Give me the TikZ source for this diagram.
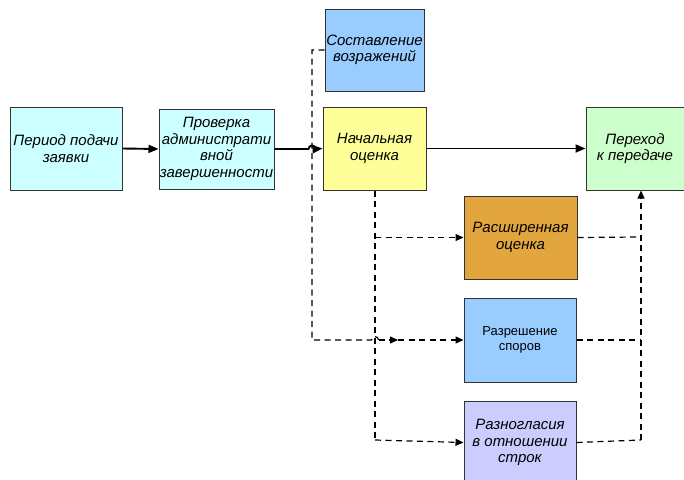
\documentclass[tikz,border=0pt]{standalone}
\usepackage{fontspec}
\setmainfont{Liberation Sans}
\usetikzlibrary{arrows.meta}
\definecolor{cyanbox}{HTML}{CCFFFF}
\definecolor{bluebox}{HTML}{99CCFF}
\definecolor{yellowbox}{HTML}{FFFF99}
\definecolor{greenbox}{HTML}{CCFFCC}
\definecolor{orangebox}{HTML}{E3A63F}
\definecolor{violetbox}{HTML}{CCCCFF}
\definecolor{edge}{HTML}{333333}
\begin{document}
\begin{tikzpicture}[x=1pt,y=-1pt,
  box/.style={draw=edge,line width=1pt,rectangle,inner sep=0pt,align=center,
    font=\fontsize{15}{16.5}\selectfont\itshape},
  plainbox/.style={box,font=\fontsize{13}{15}\selectfont},
  flow/.style={line width=1.9pt,-{Triangle[length=10pt,width=8pt]}},
  flowline/.style={line width=1.9pt},
  dline/.style={line width=1.2pt,dash pattern=on 6pt off 4.5pt},
  darrow/.style={dline,-{Triangle[length=8pt,width=7pt]}}]
\useasboundingbox (0,0) rectangle (684,479);
\node[box,fill=cyanbox,minimum width=112pt,minimum height=83pt] (A) at (66,148.5) {Период подачи\\заявки};
\node[box,fill=cyanbox,minimum width=115pt,minimum height=80pt] (B) at (216.5,149) {Проверка\\администрати\\вной\\завершенности};
\node[box,fill=bluebox,minimum width=99pt,minimum height=82pt] (C) at (374.5,50) {Составление\\возражений};
\node[box,fill=yellowbox,minimum width=103pt,minimum height=83pt] (D) at (374.5,148.5) {Начальная\\оценка};
\node[box,fill=greenbox,minimum width=98pt,minimum height=83pt] (E) at (635,148.5) {Переход\\к передаче};
\node[box,fill=orangebox,minimum width=113pt,minimum height=83pt] (F) at (520.5,237.5) {Расширенная\\оценка};
\node[plainbox,fill=bluebox,minimum width=112pt,minimum height=84pt] (G) at (520,340) {Разрешение\\споров};
\node[box,fill=violetbox,minimum width=112pt,minimum height=83pt] (H) at (520,442.5) {Разногласия\\в отношении\\строк};
% coordinates
\coordinate (cl) at (312,50);
\coordinate (cb) at (312,340);
\coordinate (j1) at (312,149);
\coordinate (j2) at (375,340);
\coordinate (m1) at (398,340);
\coordinate (dv) at (375,440);
\coordinate (fr) at (641,237);
\coordinate (gr) at (641,340);
\coordinate (hr) at (641,440);
% solid flow
\draw[flow] (A.east) -- (B.west);
\draw[flowline] (B.east) -- ([xshift=-3.5pt]j1) arc[start angle=180,end angle=0,radius=3.5pt];
\draw[flow] ([xshift=3.5pt]j1) -- (D.west);
\draw[flow] (D.east) -- (E.west);
% dashed from C
\draw[dline] (C.west) -- (cl) -- (cb) -- ([xshift=-3.5pt]j2) arc[start angle=180,end angle=0,radius=3.5pt];
\draw[darrow] ([xshift=3.5pt]j2) -- (m1);
\draw[darrow] (m1) -- (G.west);
% dashed from D
\draw[dline] (D.south -| j2) -- (dv);
\draw[darrow] (dv) -- (H.west);
\draw[darrow] (D.south -| j2) ++(0,47) coordinate (fb) -- (fb -| F.west);
% right side
\draw[dline] (F.east) -- (fr);
\draw[dline] (G.east) -- (gr);
\draw[dline] (H.east) -- (hr);
\draw[darrow] (hr) -- (hr |- E.south);
\end{tikzpicture}
\end{document}
